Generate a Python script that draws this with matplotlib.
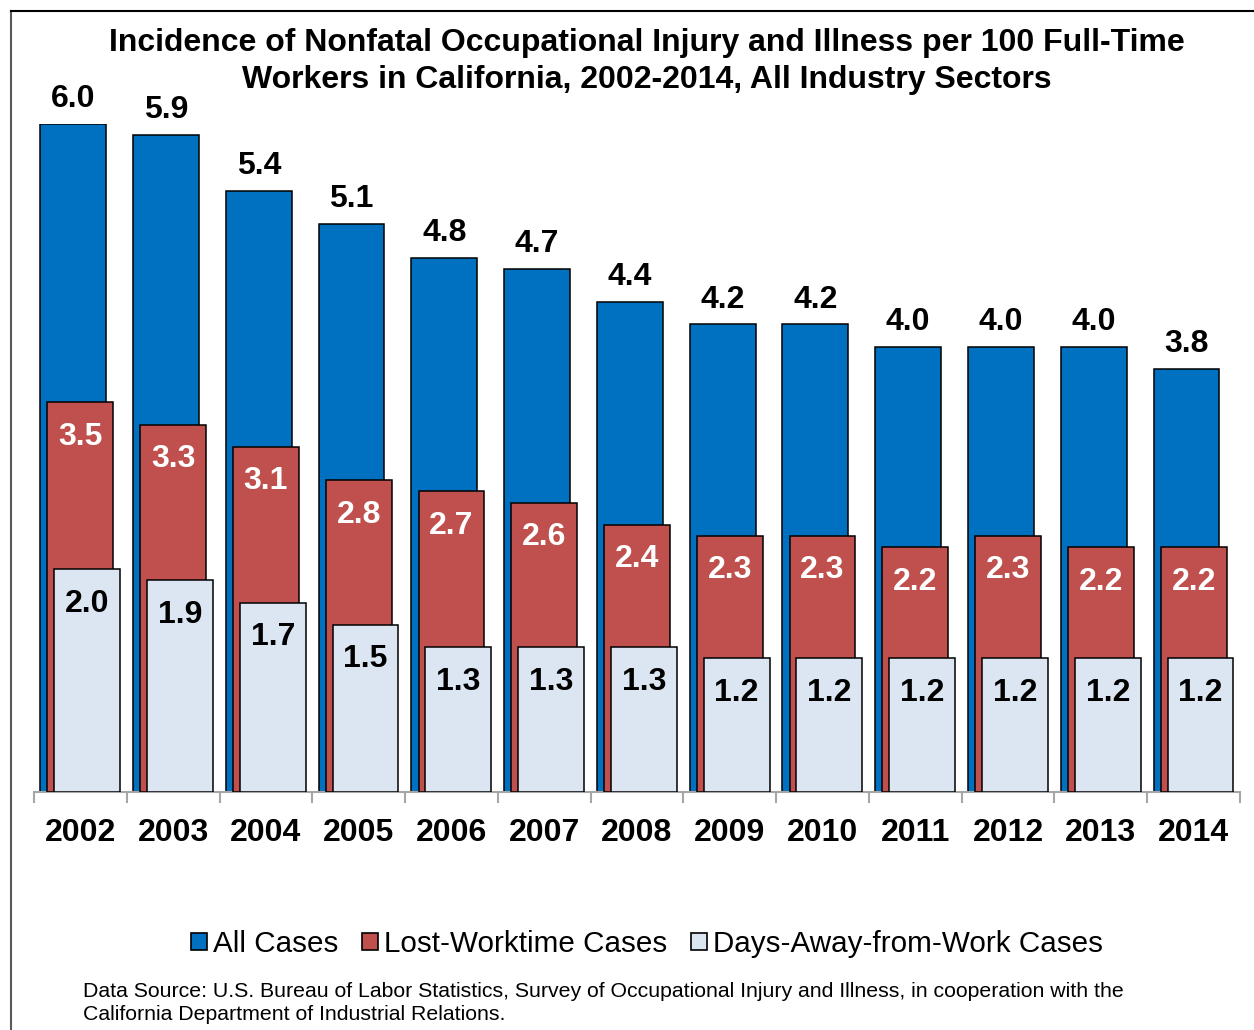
import matplotlib
matplotlib.use("Agg")
import matplotlib.pyplot as plt
from matplotlib.patches import Patch
from matplotlib.lines import Line2D
import numpy as np

plt.rcParams['font.family'] = ['Liberation Sans', 'DejaVu Sans']

years = ['2002', '2003', '2004', '2005', '2006', '2007', '2008',
         '2009', '2010', '2011', '2012', '2013', '2014']
all_cases = [6.0, 5.9, 5.4, 5.1, 4.8, 4.7, 4.4, 4.2, 4.2, 4.0, 4.0, 4.0, 3.8]
lost_worktime = [3.5, 3.3, 3.1, 2.8, 2.7, 2.6, 2.4, 2.3, 2.3, 2.2, 2.3, 2.2, 2.2]
days_away = [2.0, 1.9, 1.7, 1.5, 1.3, 1.3, 1.3, 1.2, 1.2, 1.2, 1.2, 1.2, 1.2]
series_names = ['All Cases', 'Lost-Worktime Cases', 'Days-Away-from-Work Cases']

blue = '#0070C0'
red = '#C0504D'
light = '#DCE6F2'

fig = plt.figure(figsize=(12.54, 10.30), dpi=100)
ax = fig.add_axes([34/1254, (1030-792)/1030, (1240-34)/1254, (792-124)/1030])

x = np.arange(len(years))
w = 0.71
b1 = ax.bar(x - 0.077, all_cases, w, color=blue, edgecolor='black', linewidth=1.1, zorder=2)
b2 = ax.bar(x, lost_worktime, w, color=red, edgecolor='black', linewidth=1.1, zorder=3)
b3 = ax.bar(x + 0.074, days_away, w, color=light, edgecolor='black', linewidth=1.1, zorder=4)

for r, v in zip(b1, all_cases):
    ax.annotate(f'{v:.1f}', (r.get_x() + r.get_width()/2, v), xytext=(0, 7),
                textcoords='offset points', ha='center', va='bottom',
                fontsize=23, fontweight='bold', color='black', annotation_clip=False)
for r, v in zip(b2, lost_worktime):
    ax.annotate(f'{v:.1f}', (r.get_x() + r.get_width()/2, v), xytext=(0, -14),
                textcoords='offset points', ha='center', va='top',
                fontsize=23, fontweight='bold', color='white', zorder=5)
for r, v in zip(b3, days_away):
    ax.annotate(f'{v:.1f}', (r.get_x() + r.get_width()/2, v), xytext=(0, -14),
                textcoords='offset points', ha='center', va='top',
                fontsize=23, fontweight='bold', color='black', zorder=5)

ax.set_xlim(-0.5, len(years) - 0.5)
ax.set_ylim(0, 6.0)
for s in ['top', 'right', 'left']:
    ax.spines[s].set_visible(False)
ax.spines['bottom'].set_color('#A6A6A6')
ax.spines['bottom'].set_linewidth(1.5)
ax.set_yticks([])
ax.set_xticks(x)
ax.set_xticklabels(years, fontsize=23, fontweight='bold')
ax.tick_params(axis='x', which='major', length=0, pad=19)
ax.set_xticks(np.arange(-0.5, len(years)), minor=True)
ax.tick_params(axis='x', which='minor', length=8, width=1.5, color='#A6A6A6')

fig.text(0.516, 1 - 61.5/1030,
         'Incidence of Nonfatal Occupational Injury and Illness per 100 Full-Time\n'
         'Workers in California, 2002-2014, All Industry Sectors',
         ha='center', va='center', fontsize=23, fontweight='bold', linespacing=1.3)

handles = [Patch(facecolor=c, edgecolor='black', linewidth=1.2) for c in (blue, red, light)]
fig.legend(handles, series_names, loc='center', bbox_to_anchor=(0.516, 1 - 944/1030),
           ncol=3, frameon=False, fontsize=21.3, handlelength=0.55, handleheight=0.55,
           handletextpad=0.2, columnspacing=0.8)

fig.text(83/1254, 1 - 1003/1030,
         'Data Source: U.S. Bureau of Labor Statistics, Survey of Occupational Injury and Illness, in cooperation with the\n'
         'California Department of Industrial Relations.',
         ha='left', va='center', fontsize=15.3, linespacing=1.32)

# outer chart border (cropped at right and bottom)
fig.add_artist(Line2D([11/1254, 11/1254], [0, 1 - 11/1030], transform=fig.transFigure,
                      color='#595959', linewidth=1.5))
fig.add_artist(Line2D([11/1254, 1], [1 - 11/1030, 1 - 11/1030], transform=fig.transFigure,
                      color='black', linewidth=1.5))

fig.savefig('out.png', dpi=100)
